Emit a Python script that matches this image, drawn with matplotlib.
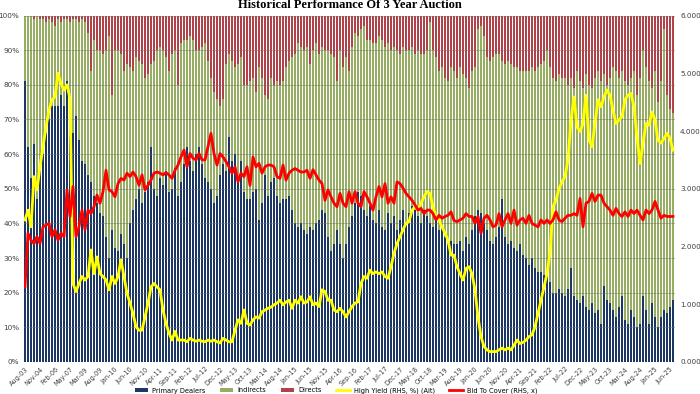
import matplotlib.pyplot as plt
import numpy as np

# quarterly auctions Aug-03..May-07, then monthly Nov-08..Jul-25
tick_labels = ['Aug-03', 'Nov-04', 'Feb-06', 'May-07', 'Mar-09', 'Aug-09', 'Jan-10', 'Jun-10',
               'Nov-10', 'Apr-11', 'Sep-11', 'Feb-12', 'Jul-12', 'Dec-12', 'May-13', 'Oct-13',
               'Mar-14', 'Aug-14', 'Jan-15', 'Jun-15', 'Nov-15', 'Apr-16', 'Sep-16', 'Feb-17',
               'Jul-17', 'Dec-17', 'May-18', 'Oct-18', 'Mar-19', 'Aug-19', 'Jan-20', 'Jun-20',
               'Nov-20', 'Apr-21', 'Sep-21', 'Feb-22', 'Jul-22', 'Dec-22', 'May-23', 'Oct-23',
               'Mar-24', 'Aug-24', 'Jan-25', 'Jun-25']

# allotment shares, %
primary_dealers = [
    81, 62, 53, 63, 47, 55, 60, 66, 70, 74, 74, 74, 77, 74, 81, 65,
    66, 71, 64, 58, 57, 54, 52, 48, 46, 43,
    42, 36, 30, 38, 33, 32, 37, 34, 30,
    40, 44, 47, 50, 46, 49, 52, 62, 50, 48, 53,
    51, 55, 49, 50, 56, 48, 52, 57, 62, 58, 55, 60, 62, 57, 53,
    52, 50, 46, 48, 54, 57, 55, 65, 58, 60, 52,
    58, 49, 47, 47, 49, 50, 41, 46, 54, 48, 52, 53, 48, 46, 47, 47, 48, 44,
    40, 39, 40, 38, 37, 39, 38, 40, 41, 44, 43, 36, 32, 34, 38, 34, 30, 34,
    39, 42, 46, 49, 48, 44, 42, 45, 41, 40, 44, 39, 38, 43, 40, 42, 38, 41,
    44, 40, 43, 45, 44, 42, 40, 44, 42, 40, 39, 41, 38, 39, 36, 34, 35, 34,
    34, 35, 32, 36, 34, 38, 42, 44, 43, 40, 38, 35, 34, 36, 39, 47, 36, 34,
    35, 33, 32, 34, 31, 30, 28, 30, 27, 26, 26, 25, 26, 23, 20, 20, 21, 20,
    19, 21, 27, 19, 18, 17, 19, 16, 15, 17, 14, 15, 11, 22, 18, 17, 15, 13,
    16, 19, 12, 11, 15, 13, 10, 11, 19, 15, 11, 17, 13, 10, 13, 15, 14, 16, 18]

indirects = [
    19, 38, 47, 36, 53, 44, 39, 32, 29, 24, 23, 25, 21, 25, 18, 33,
    33, 28, 34, 41, 41, 41, 32, 45, 44, 47,
    47, 54, 64, 39, 57, 58, 52, 50, 56,
    45, 40, 41, 37, 40, 33, 31, 24, 37, 42, 38,
    39, 33, 35, 39, 34, 32, 40, 36, 31, 36, 38, 30, 28, 34, 39,
    35, 32, 32, 28, 20, 19, 31, 24, 29, 25, 34,
    30, 31, 33, 34, 33, 28, 44, 36, 23, 28, 30, 27, 33, 34, 34, 38, 39, 44,
    49, 53, 51, 52, 54, 47, 52, 52, 48, 47, 47, 54, 57, 54, 43, 56, 55, 54,
    45, 49, 49, 45, 48, 53, 51, 48, 51, 52, 50, 54, 53, 49, 50, 49, 52, 48,
    47, 50, 47, 46, 45, 48, 49, 45, 48, 58, 51, 47, 46, 46, 46, 47, 50, 50,
    48, 50, 51, 46, 45, 46, 43, 52, 54, 54, 50, 52, 54, 53, 50, 40, 50, 53,
    51, 52, 53, 50, 53, 54, 56, 55, 57, 59, 60, 62, 64, 62, 62, 61, 62, 62,
    63, 59, 55, 60, 66, 64, 60, 67, 65, 62, 68, 69, 70, 61, 62, 65, 70, 71,
    66, 65, 69, 69, 67, 71, 67, 71, 71, 70, 70, 62, 71, 65, 68, 81, 63, 57, 54]

directs = [
    0, 0, 0, 1, 0, 1, 1, 2, 1, 2, 3, 1, 2, 1, 1, 2,
    1, 1, 2, 1, 2, 5, 16, 7, 10, 10,
    11, 10, 6, 23, 10, 10, 11, 16, 14,
    15, 16, 12, 13, 14, 18, 17, 14, 13, 10, 9,
    10, 12, 16, 11, 10, 20, 8, 7, 7, 6, 7, 10, 10, 9, 8,
    13, 18, 22, 24, 26, 24, 14, 11, 13, 15, 14,
    12, 20, 20, 19, 18, 22, 15, 18, 23, 24, 18, 20, 19, 20, 19, 15, 13, 12,
    11, 8, 9, 10, 9, 14, 10, 8, 11, 9, 10, 10, 11, 12, 19, 10, 15, 12,
    16, 9, 5, 6, 4, 3, 7, 7, 8, 8, 6, 7, 9, 8, 10, 9, 10, 11,
    9, 10, 10, 9, 11, 10, 11, 11, 10, 2, 10, 12, 16, 15, 18, 19, 15, 16,
    18, 15, 17, 18, 21, 16, 15, 4, 3, 6, 12, 13, 12, 11, 11, 13, 14, 13,
    14, 15, 15, 16, 16, 16, 16, 15, 16, 15, 14, 13, 10, 15, 18, 19, 17, 18,
    18, 20, 18, 21, 16, 19, 21, 17, 20, 21, 18, 16, 19, 17, 20, 18, 15, 16,
    18, 16, 19, 20, 18, 16, 23, 18, 10, 15, 19, 21, 16, 25, 19, 4, 23, 27, 28]

# right hand side series
high_yield = [
    2.46, 2.63, 2.34, 3.21, 2.98, 3.38, 3.73, 4.07, 4.36, 4.54, 4.59, 5.00, 4.82, 4.71, 4.80, 4.56,
    1.36, 1.22, 1.36, 1.48, 1.42, 1.48, 1.94, 1.53, 1.82, 1.53,
    1.48, 1.42, 1.25, 1.48, 1.36, 1.48, 1.77, 1.48, 1.19,
    1.02, 0.84, 0.61, 0.55, 0.55, 0.78, 1.02, 1.30, 1.36, 1.30, 1.25,
    0.90, 0.67, 0.50, 0.38, 0.53, 0.38, 0.38, 0.38, 0.35, 0.41, 0.38, 0.36, 0.38, 0.36, 0.35,
    0.38, 0.36, 0.38, 0.35, 0.33, 0.41, 0.38, 0.35, 0.35, 0.55, 0.73,
    0.67, 0.90, 0.67, 0.64, 0.73, 0.78, 0.76, 0.87, 0.90, 0.93, 0.95, 0.99, 1.02, 1.07, 0.99, 1.04, 1.07, 0.93,
    1.07, 1.02, 1.13, 1.02, 1.04, 1.13, 0.99, 1.02, 0.96, 1.25, 1.22, 1.07, 1.07, 0.90, 0.87, 0.93, 0.87, 0.78,
    0.87, 0.96, 1.02, 1.04, 1.36, 1.48, 1.45, 1.59, 1.53, 1.56, 1.53, 1.56, 1.48, 1.45, 1.65, 1.88, 2.05, 2.17,
    2.29, 2.40, 2.43, 2.63, 2.69, 2.63, 2.75, 2.86, 2.95, 2.92, 2.69, 2.52, 2.46, 2.34, 2.23, 2.11, 1.85, 1.85,
    1.65, 1.53, 1.42, 1.62, 1.65, 1.53, 1.25, 0.78, 0.44, 0.27, 0.21, 0.18, 0.18, 0.18, 0.21, 0.24, 0.21, 0.24,
    0.21, 0.29, 0.38, 0.32, 0.34, 0.38, 0.44, 0.47, 0.61, 0.84, 1.07, 1.30, 1.53, 1.88, 2.69, 2.80, 3.00, 3.12,
    3.21, 3.50, 4.19, 4.59, 4.07, 3.99, 4.13, 4.62, 3.84, 3.73, 4.13, 4.54, 4.42, 4.59, 4.71, 4.62, 4.36, 4.13,
    4.19, 4.25, 4.54, 4.62, 4.65, 4.42, 3.90, 3.44, 3.79, 4.13, 4.10, 4.33, 4.19, 3.84, 3.79, 3.87, 3.96, 3.87, 3.67]

bid_to_cover = [
    1.30, 2.23, 2.11, 2.05, 2.17, 2.05, 2.34, 2.37, 2.40, 2.17, 2.29, 2.11, 2.23, 2.17, 2.98, 2.52,
    3.04, 2.17, 2.34, 2.63, 2.29, 2.63, 2.57, 2.69, 2.89, 2.75,
    2.95, 3.32, 2.98, 2.95, 2.86, 3.09, 3.18, 3.15, 3.27,
    3.21, 3.29, 3.21, 3.06, 3.24, 2.98, 3.06, 3.15, 3.27, 3.29, 3.27,
    3.24, 3.28, 3.24, 3.18, 3.32, 3.41, 3.55, 3.67, 3.38, 3.61, 3.53, 3.50, 3.61, 3.50, 3.50,
    3.73, 3.96, 3.61, 3.41, 3.61, 3.55, 3.47, 3.38, 3.27, 3.38, 3.12,
    3.27, 3.21, 3.38, 3.06, 3.55, 3.38, 3.44, 3.27, 3.38, 3.41, 3.41, 3.38, 3.21, 3.18, 3.41, 3.15, 3.27, 3.32,
    3.35, 3.32, 3.29, 3.29, 3.32, 3.18, 3.33, 3.24, 3.15, 3.09, 2.80, 2.98, 2.86, 2.75, 2.69, 2.92, 2.75, 2.69,
    2.95, 2.75, 2.95, 2.75, 2.69, 2.95, 2.86, 2.75, 2.63, 2.86, 3.04, 2.86, 3.09, 2.75, 2.86, 2.75, 3.12, 3.09,
    3.01, 2.92, 2.86, 2.80, 2.72, 2.63, 2.66, 2.57, 2.63, 2.63, 2.57, 2.46, 2.54, 2.49, 2.52, 2.54, 2.60, 2.45,
    2.43, 2.46, 2.49, 2.57, 2.52, 2.52, 2.40, 2.52, 2.23, 2.49, 2.54, 2.46, 2.34, 2.37, 2.57, 2.34, 2.46, 2.57,
    2.40, 2.63, 2.37, 2.46, 2.49, 2.40, 2.54, 2.40, 2.37, 2.34, 2.46, 2.40, 2.46, 2.40, 2.46, 2.60, 2.46, 2.43,
    2.49, 2.54, 2.54, 2.57, 2.54, 2.83, 2.34, 2.75, 2.78, 2.92, 2.78, 2.89, 2.89, 2.75, 2.69, 2.63, 2.54, 2.66,
    2.57, 2.52, 2.60, 2.52, 2.63, 2.57, 2.63, 2.54, 2.46, 2.63, 2.57, 2.63, 2.78, 2.63, 2.49, 2.54, 2.52, 2.52, 2.52]

navy = '#1d3765'
green = '#98ad64'
red = '#b0434a'

x = np.arange(len(primary_dealers))
pd_arr = np.array(primary_dealers)
ind_arr = np.array(indirects)

W, H = 700, 394
fig = plt.figure(figsize=(W / 100, H / 100), dpi=100)
# 3 px per auction slot so the bar pattern stays even
ax = fig.add_axes([23.5 / W, 32 / H, 3 * len(x) / W, 346.5 / H])

w = 2 / 3
ax.bar(x, primary_dealers, width=w, color=navy, label='Primary Dealers', zorder=2)
ax.bar(x, indirects, width=w, bottom=pd_arr, color=green, label='Indirects', zorder=2)
ax.bar(x, directs, width=w, bottom=pd_arr + ind_arr, color=red, label='Directs', zorder=2)

ax.set_xlim(-0.5, len(x) - 0.5)
ax.set_ylim(0, 100)
ax.set_yticks(np.arange(0, 101, 10))
ax.set_yticklabels(['%d%%' % v for v in range(0, 101, 10)])
ax.set_xticks(np.arange(0, 5 * len(tick_labels), 5))
ax.set_xticklabels(tick_labels, rotation=45, ha='right', rotation_mode='anchor')
for t in ax.get_yticklabels():
    t.set_fontsize(5.2)
    t.set_color('#404040')
for t in ax.get_xticklabels():
    t.set_fontsize(4.7)
    t.set_color('#404040')
ax.tick_params(axis='both', length=0, pad=3)
ax.grid(axis='y', color='#6f6f6f', linewidth=0.6, alpha=0.55, zorder=3)
ax.set_axisbelow(False)
for s in ax.spines.values():
    s.set_visible(False)

ax2 = ax.twinx()
ax2.plot(x, high_yield, color='#ffff00', linewidth=2.0, label='High Yield (RHS, %) (Alt)', zorder=4)
ax2.plot(x, bid_to_cover, color='#ff0000', linewidth=2.0, label='Bid To Cover (RHS, x)', zorder=4)
ax2.set_ylim(0, 6)
ax2.set_yticks(np.arange(0, 7, 1))
ax2.set_yticklabels(['%.3f' % v for v in range(0, 7)])
for t in ax2.get_yticklabels():
    t.set_fontsize(5.2)
    t.set_color('#404040')
ax2.tick_params(axis='y', length=0, pad=4)
for s in ax2.spines.values():
    s.set_visible(False)

fig.text(0.5, 1 - 8.5 / H, 'Historical Performance Of 3 Year Auction', ha='center', va='baseline',
         fontsize=9, fontweight='bold', family='Liberation Serif')

h1, l1 = ax.get_legend_handles_labels()
h2, l2 = ax2.get_legend_handles_labels()
fig.legend(h1 + h2, l1 + l2, loc='upper center', bbox_to_anchor=(0.48, 1 - 383.5 / H), ncol=5,
           frameon=False, fontsize=4.8, handlelength=2.0, handleheight=0.5, handletextpad=0.6,
           columnspacing=2.2, borderpad=0.1)

fig.savefig('out.png', dpi=100)
